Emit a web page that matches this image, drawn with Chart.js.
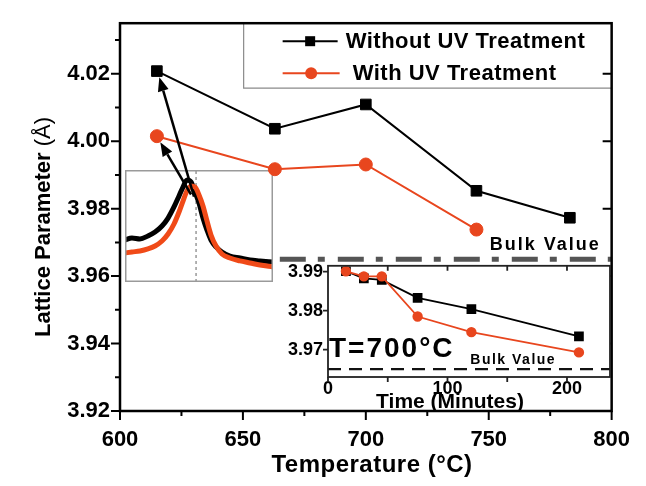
<!DOCTYPE html>
<html>
<head>
<meta charset="utf-8">
<script src="https://cdn.jsdelivr.net/npm/chart.js@4.4.1/dist/chart.umd.min.js"></script>
<style>
  html, body { margin: 0; padding: 0; background: #fff; }
  #wrap { position: relative; width: 646px; height: 486px; }
  #wrap canvas { position: absolute; }
</style>
</head>
<body>
<div id="wrap">
  <canvas id="xrdChart" width="148" height="112" style="left:125px;top:170px"></canvas>
  <canvas id="mainChart" width="646" height="486" style="left:0;top:0"></canvas>
  <canvas id="timeChart" width="340" height="165" style="left:280px;top:250px"></canvas>
</div>
<script>
const temperatures = [615, 663, 700, 745, 783];
const withoutUV = [4.0208, 4.0037, 4.0109, 3.9853, 3.9773];
const withUV = [4.0015, 3.9917, 3.9931, 3.9738];
const bulkValue = 3.965;
const bulkLineRange = [665, 800];

const xTicks = [600, 650, 700, 750, 800];
const xMinorTicks = [625, 675, 725, 775];
const yTicks = [3.92, 3.94, 3.96, 3.98, 4.00, 4.02];
const yTickLabels = ['3.92', '3.94', '3.96', '3.98', '4.00', '4.02'];
const yMinorTicks = [3.93, 3.95, 3.97, 3.99, 4.01, 4.03];

// inset: anneal time at 700 C
const times = [15, 30, 45, 75, 120, 210];
const timeWithoutUV = [3.9901, 3.9883, 3.9879, 3.9833, 3.9804, 3.9734];
const timeWithUV = [3.9901, 3.9888, 3.9888, 3.9785, 3.9745, 3.9693];
const timeTicks = [0, 100, 200];
const timeMinorTicks = [50, 150];
const timeYTicks = [3.97, 3.98, 3.99];
const timeYTickLabels = ['3.97', '3.98', '3.99'];

// small XRD peak inset, arbitrary units
const xrdPos = [0, 4.7, 10.1, 15.5, 20.3, 25, 29.1, 33.1, 36.5, 39.2, 41.9, 44.6, 47.3, 50, 52.7, 55.4, 58.1, 61.5, 65.5, 70.9, 77.7, 84.5, 91.2, 100];
const xrdWithoutUV = [37.5, 39.3, 38.4, 41.1, 44.6, 50, 57.1, 67, 76.8, 84.8, 91.1, 89.3, 80.4, 70.5, 57.1, 46.4, 37.5, 31.3, 26.8, 23.2, 21.4, 19.6, 18.8, 17.9];
const xrdWithUV = [25.9, 26.8, 27.7, 29.5, 32.1, 36.6, 42.9, 51.8, 62.5, 72.3, 81.3, 85.7, 84.8, 77.7, 67.9, 54.5, 42, 32.1, 25, 21.4, 18.8, 17, 15.2, 13.4];
const xrdPeakPos = 48;

const FONT = "'Liberation Sans', Arial, sans-serif";
const red = '#e8461e';
Chart.defaults.font.family = FONT;

function arrow(ctx, x0, y0, x1, y1) {
  const ang = Math.atan2(y1 - y0, x1 - x0);
  const hl = 14, hw = 5.5;
  const bx = x1 - hl * Math.cos(ang), by = y1 - hl * Math.sin(ang);
  ctx.beginPath();
  ctx.moveTo(x0, y0);
  ctx.lineTo(bx, by);
  ctx.stroke();
  ctx.beginPath();
  ctx.moveTo(x1, y1);
  ctx.lineTo(bx + hw * Math.sin(ang), by - hw * Math.cos(ang));
  ctx.lineTo(bx - hw * Math.sin(ang), by + hw * Math.cos(ang));
  ctx.closePath();
  ctx.fill();
}

const decor = {
  id: 'decor',
  afterDraw(chart) {
    const { ctx, chartArea: a, scales: { x, y } } = chart;
    const ds = chart.data.datasets;
    ctx.save();

    // legend box
    const lLeft = a.right - 368, lBottom = a.top + 65;
    ctx.fillStyle = '#fff';
    ctx.fillRect(lLeft, a.top, a.right - lLeft, lBottom - a.top);
    ctx.strokeStyle = '#8a8a8a';
    ctx.lineWidth = 1.2;
    ctx.beginPath();
    ctx.moveTo(lLeft, a.top);
    ctx.lineTo(lLeft, lBottom);
    ctx.lineTo(a.right, lBottom);
    ctx.stroke();
    const rows = [
      { d: ds[0], y: a.top + 18, x0: a.right - 329, x1: a.right - 274, tx: a.right - 266 },
      { d: ds[1], y: a.top + 50, x0: a.right - 329, x1: a.right - 272, tx: a.right - 259 }
    ];
    rows.forEach(r => {
      ctx.strokeStyle = r.d.borderColor;
      ctx.fillStyle = r.d.borderColor;
      ctx.lineWidth = 2;
      ctx.beginPath();
      ctx.moveTo(r.x0, r.y);
      ctx.lineTo(r.x1, r.y);
      ctx.stroke();
      const cx = (r.x0 + r.x1) / 2;
      if (r.d.pointStyle === 'rect') {
        ctx.fillRect(cx - 5, r.y - 5, 10, 10);
      } else {
        ctx.beginPath();
        ctx.arc(cx, r.y, 6, 0, Math.PI * 2);
        ctx.fill();
      }
      ctx.fillStyle = '#000';
      ctx.font = 'bold 22px ' + FONT;
      ctx.letterSpacing = '0.5px';
      ctx.textAlign = 'left';
      ctx.textBaseline = 'middle';
      ctx.fillText(r.d.label, r.tx, r.y + 1);
    });
    ctx.letterSpacing = '0px';

    // frame
    ctx.strokeStyle = '#000';
    ctx.lineWidth = 2.5;
    ctx.strokeRect(a.left, a.top, a.right - a.left, a.bottom - a.top);

    // ticks
    ctx.lineWidth = 2;
    ctx.beginPath();
    xTicks.forEach(v => {
      const px = x.getPixelForValue(v);
      ctx.moveTo(px, a.bottom);
      ctx.lineTo(px, a.bottom + 9);
    });
    xMinorTicks.forEach(v => {
      const px = x.getPixelForValue(v);
      ctx.moveTo(px, a.bottom);
      ctx.lineTo(px, a.bottom + 5);
    });
    yTicks.forEach(v => {
      const py = y.getPixelForValue(v);
      ctx.moveTo(a.left, py);
      ctx.lineTo(a.left - 9, py);
      ctx.moveTo(a.right, py);
      ctx.lineTo(a.right - 9, py);
    });
    yMinorTicks.forEach(v => {
      const py = y.getPixelForValue(v);
      ctx.moveTo(a.left, py);
      ctx.lineTo(a.left - 5, py);
    });
    ctx.stroke();

    // arrows from the XRD peak to the 615 C points
    ctx.strokeStyle = '#000';
    ctx.fillStyle = '#000';
    ctx.lineWidth = 2.5;
    arrow(ctx, x.getPixelForValue(630.1), y.getPixelForValue(3.9836), x.getPixelForValue(616.0), y.getPixelForValue(4.0190));
    arrow(ctx, x.getPixelForValue(628.9), y.getPixelForValue(3.9842), x.getPixelForValue(616.4), y.getPixelForValue(3.9997));

    // bulk value label
    ctx.fillStyle = '#000';
    ctx.font = 'bold 18px ' + FONT;
    ctx.letterSpacing = '2px';
    ctx.textAlign = 'center';
    ctx.textBaseline = 'middle';
    ctx.fillText('Bulk Value', x.getPixelForValue(773), y.getPixelForValue(3.9693));
    ctx.letterSpacing = '0.5px';

    // axis titles
    ctx.font = 'bold 24px ' + FONT;
    ctx.fillText('Temperature (°C)', 372, 465);
    ctx.letterSpacing = '0px';
    ctx.save();
    ctx.translate(44, 227);
    ctx.rotate(-Math.PI / 2);
    const p1 = 'Lattice Parameter ', p2 = '(Å)';
    ctx.font = 'bold 22px ' + FONT;
    const w1 = ctx.measureText(p1).width;
    ctx.font = '22px ' + FONT;
    const w2 = ctx.measureText(p2).width;
    ctx.textAlign = 'left';
    ctx.font = 'bold 22px ' + FONT;
    ctx.fillText(p1, -(w1 + w2) / 2, 0);
    ctx.font = '22px ' + FONT;
    ctx.fillText(p2, -(w1 + w2) / 2 + w1, 0);
    ctx.restore();

    ctx.restore();
  }
};

const mainChart = new Chart(document.getElementById('mainChart'), {
  type: 'line',
  data: {
    datasets: [
      {
        label: 'Without UV Treatment',
        data: temperatures.map((t, i) => ({ x: t, y: withoutUV[i] })),
        borderColor: '#000', backgroundColor: '#000', borderWidth: 2,
        pointStyle: 'rect', pointRadius: 7.5, pointBorderWidth: 1
      },
      {
        label: 'With UV Treatment',
        data: withUV.map((v, i) => ({ x: temperatures[i], y: v })),
        borderColor: red, backgroundColor: red, borderWidth: 2,
        pointStyle: 'circle', pointRadius: 6.5, pointBorderWidth: 1
      },
      {
        label: 'Bulk Value',
        data: bulkLineRange.map(t => ({ x: t, y: bulkValue })),
        borderColor: '#555', borderWidth: 5, borderDash: [26, 12, 7, 13],
        pointRadius: 0
      }
    ]
  },
  options: {
    responsive: false,
    animation: false,
    events: [],
    layout: { padding: { top: 12, right: 27, left: 0, bottom: 0 } },
    plugins: { legend: { display: false }, tooltip: { enabled: false } },
    scales: {
      x: {
        type: 'linear', min: 600, max: 800,
        afterBuildTicks: s => { s.ticks = xTicks.map(v => ({ value: v })); },
        afterFit: s => { s.height = 75; },
        grid: { display: false, drawTicks: false },
        border: { display: false },
        ticks: { color: '#000', font: { size: 22, weight: 'bold' }, padding: 16, maxRotation: 0, autoSkip: false }
      },
      y: {
        min: 3.92, max: 4.035,
        afterBuildTicks: s => { s.ticks = yTicks.map(v => ({ value: v })); },
        afterFit: s => { s.width = 120; },
        grid: { display: false, drawTicks: false },
        border: { display: false },
        ticks: { color: '#000', font: { size: 22, weight: 'bold' }, padding: 10, autoSkip: false,
          callback: (v, i) => yTickLabels[i] }
      }
    }
  },
  plugins: [decor]
});

const insetDecor = {
  id: 'insetDecor',
  beforeDraw(chart) {
    const { ctx, chartArea: a } = chart;
    ctx.save();
    ctx.fillStyle = '#fff';
    ctx.fillRect(a.left, a.top, a.right - a.left, a.bottom - a.top);
    ctx.restore();
  },
  afterDraw(chart) {
    const { ctx, chartArea: a, scales: { x, y } } = chart;
    ctx.save();
    ctx.strokeStyle = '#222';
    ctx.lineWidth = 1.8;
    ctx.strokeRect(a.left, a.top, a.right - a.left, a.bottom - a.top);
    ctx.beginPath();
    timeTicks.concat(timeMinorTicks).forEach(v => {
      const px = x.getPixelForValue(v);
      ctx.moveTo(px, a.bottom);
      ctx.lineTo(px, a.bottom + 5);
      if (v > 0) {
        ctx.moveTo(px, a.top);
        ctx.lineTo(px, a.top + 5);
      }
    });
    timeYTicks.forEach(v => {
      const py = y.getPixelForValue(v);
      ctx.moveTo(a.left, py);
      ctx.lineTo(a.left - 5, py);
    });
    ctx.stroke();

    ctx.fillStyle = '#000';
    ctx.textBaseline = 'alphabetic';
    ctx.textAlign = 'left';
    ctx.font = 'bold 28px ' + FONT;
    ctx.letterSpacing = '2px';
    ctx.fillText('T=700°C', a.left + 1, a.bottom - 20);

    ctx.font = 'bold 14px ' + FONT;
    ctx.letterSpacing = '1.5px';
    ctx.textAlign = 'center';
    ctx.textBaseline = 'middle';
    ctx.fillText('Bulk Value', x.getPixelForValue(155), y.getPixelForValue(3.9673));

    ctx.font = 'bold 21px ' + FONT;
    ctx.letterSpacing = '0px';
    ctx.fillText('Time (Minutes)', a.left + 122, a.bottom + 25);
    ctx.restore();
  }
};

const timeChart = new Chart(document.getElementById('timeChart'), {
  type: 'line',
  data: {
    datasets: [
      {
        label: 'With UV Treatment',
        data: times.map((t, i) => ({ x: t, y: timeWithUV[i] })),
        borderColor: red, backgroundColor: red, borderWidth: 1.8,
        pointStyle: 'circle', pointRadius: 4.3
      },
      {
        label: 'Without UV Treatment',
        data: times.map((t, i) => ({ x: t, y: timeWithoutUV[i] })),
        borderColor: '#000', backgroundColor: '#000', borderWidth: 1.8,
        pointStyle: 'rect', pointRadius: 5.6
      },
      {
        label: 'Bulk Value',
        data: [{ x: 0, y: bulkValue }, { x: 236, y: bulkValue }],
        borderColor: '#111', borderWidth: 2.2, borderDash: [13, 8], pointRadius: 0
      }
    ]
  },
  options: {
    responsive: false,
    animation: false,
    events: [],
    layout: { padding: { top: 12, right: 10, left: 0, bottom: 0 } },
    plugins: { legend: { display: false }, tooltip: { enabled: false } },
    scales: {
      x: {
        type: 'linear', min: 0, max: 236,
        afterBuildTicks: s => { s.ticks = timeTicks.map(v => ({ value: v })); },
        afterFit: s => { s.height = 38; },
        grid: { display: false, drawTicks: false },
        border: { display: false },
        ticks: { color: '#000', font: { size: 18, weight: 'bold' }, padding: 1, maxRotation: 0, autoSkip: false }
      },
      y: {
        min: 3.963, max: 3.9915,
        afterBuildTicks: s => { s.ticks = timeYTicks.map(v => ({ value: v })); },
        afterFit: s => { s.width = 48; },
        grid: { display: false, drawTicks: false },
        border: { display: false },
        ticks: { color: '#000', font: { size: 18, weight: 'bold' }, padding: 5, autoSkip: false,
          callback: (v, i) => timeYTickLabels[i] }
      }
    }
  },
  plugins: [insetDecor]
});

const xrdBorder = {
  id: 'xrdBorder',
  afterDraw(chart) {
    const { ctx, width, height } = chart;
    ctx.save();
    ctx.strokeStyle = '#9a9a9a';
    ctx.lineWidth = 1.5;
    ctx.strokeRect(0.75, 0.75, width - 1.5, height - 1.5);
    ctx.restore();
  }
};

const xrdChart = new Chart(document.getElementById('xrdChart'), {
  type: 'line',
  data: {
    datasets: [
      {
        data: xrdPos.map((p, i) => ({ x: p, y: xrdWithUV[i] })),
        borderColor: '#f04a18', borderWidth: 5, pointRadius: 0,
        cubicInterpolationMode: 'monotone'
      },
      {
        data: xrdPos.map((p, i) => ({ x: p, y: xrdWithoutUV[i] })),
        borderColor: '#000', borderWidth: 5, pointRadius: 0,
        cubicInterpolationMode: 'monotone'
      },
      {
        data: [{ x: xrdPeakPos, y: 0 }, { x: xrdPeakPos, y: 100 }],
        borderColor: '#666', borderWidth: 1, borderDash: [3, 3], pointRadius: 0
      }
    ]
  },
  options: {
    responsive: false,
    animation: false,
    events: [],
    layout: { padding: 0 },
    plugins: { legend: { display: false }, tooltip: { enabled: false } },
    scales: {
      x: { type: 'linear', display: false, min: 0, max: 100 },
      y: { display: false, min: 0, max: 100 }
    }
  },
  plugins: [xrdBorder]
});
</script>
</body>
</html>
